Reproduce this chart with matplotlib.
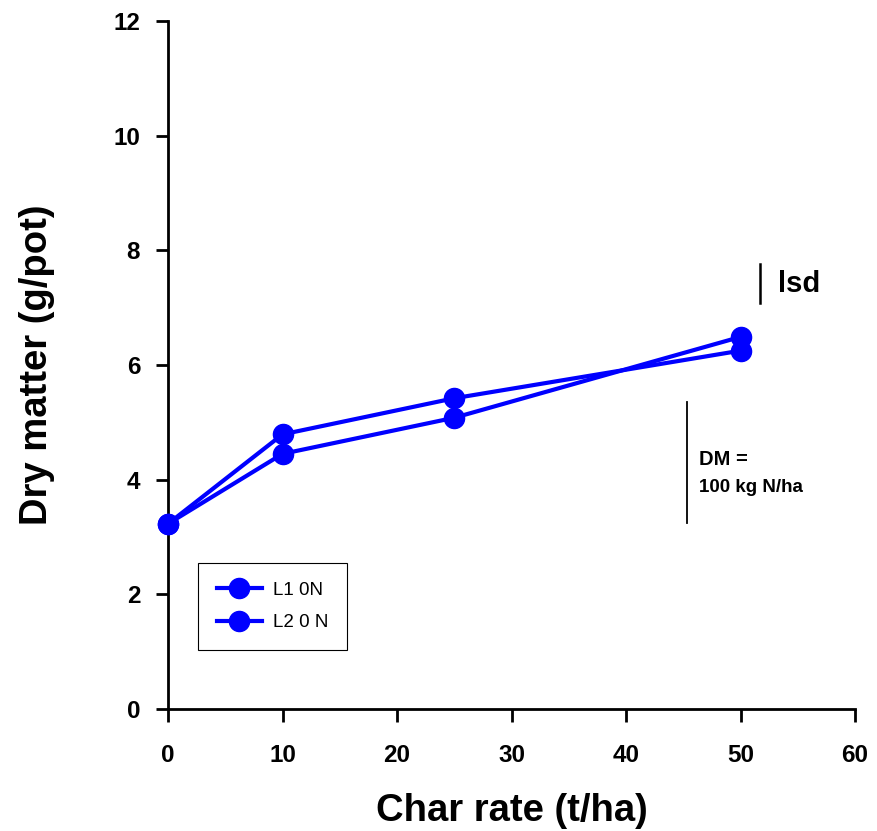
import matplotlib
matplotlib.use("Agg")
import matplotlib.pyplot as plt

char_rate = [0, 10, 25, 50]
l1_0n = [3.23, 4.79, 5.42, 6.25]
l2_0n = [3.23, 4.45, 5.08, 6.49]
series_labels = ["L1 0N", "L2 0 N"]
lsd_x = 51.7
lsd_range = (7.08, 7.76)
dm_x = 45.3
dm_range = (3.24, 5.35)

plt.rcParams['font.family'] = ['Liberation Sans', 'DejaVu Sans']

fig = plt.figure(figsize=(8.77, 8.31), dpi=100)
ax = fig.add_axes([168/877, 122/831, 687/877, 688/831])

for ys, lab in zip([l1_0n, l2_0n], series_labels):
    ax.plot(char_rate, ys, color='#0000ff', lw=3, marker='o', ms=14.5,
            label=lab, clip_on=False, zorder=3)

ax.plot([lsd_x, lsd_x], lsd_range, color='black', lw=1.8)
ax.text(53.3, sum(lsd_range)/2, "lsd", fontsize=21, fontweight='bold', va='center', ha='left')
ax.plot([dm_x, dm_x], dm_range, color='black', lw=1.3)
ax.text(46.4, 4.36, "DM =", fontsize=14.5, fontweight='bold', va='center', ha='left')
ax.text(46.4, 3.87, "100 kg N/ha", fontsize=13.5, fontweight='bold', va='center', ha='left')

ax.set_xlim(0, 60)
ax.set_ylim(0, 12)
ax.set_xticks(range(0, 61, 10))
ax.set_yticks(range(0, 13, 2))
ax.spines['top'].set_visible(False)
ax.spines['right'].set_visible(False)
for s in ['left', 'bottom']:
    ax.spines[s].set_linewidth(2)
ax.tick_params(direction='out', length=9, width=2, labelsize=17.5)
ax.tick_params(axis='x', pad=16)
ax.tick_params(axis='y', pad=11)
for lbl in ax.get_xticklabels() + ax.get_yticklabels():
    lbl.set_fontweight('bold')

ax.set_xlabel("Char rate (t/ha)", fontsize=27.5, fontweight='bold', labelpad=19)
ax.set_ylabel("Dry matter (g/pot)", fontsize=27.5, fontweight='bold', labelpad=42)

leg = ax.legend(loc='lower left', bbox_to_anchor=(0.044, 0.086), fontsize=13.5,
                frameon=True, fancybox=False, edgecolor='black', framealpha=1,
                borderpad=1.0, handlelength=2.4, handletextpad=0.6, labelspacing=0.8,
                markerscale=1.0, borderaxespad=0)
leg.get_frame().set_linewidth(0.8)

fig.savefig("out.png", dpi=100)
